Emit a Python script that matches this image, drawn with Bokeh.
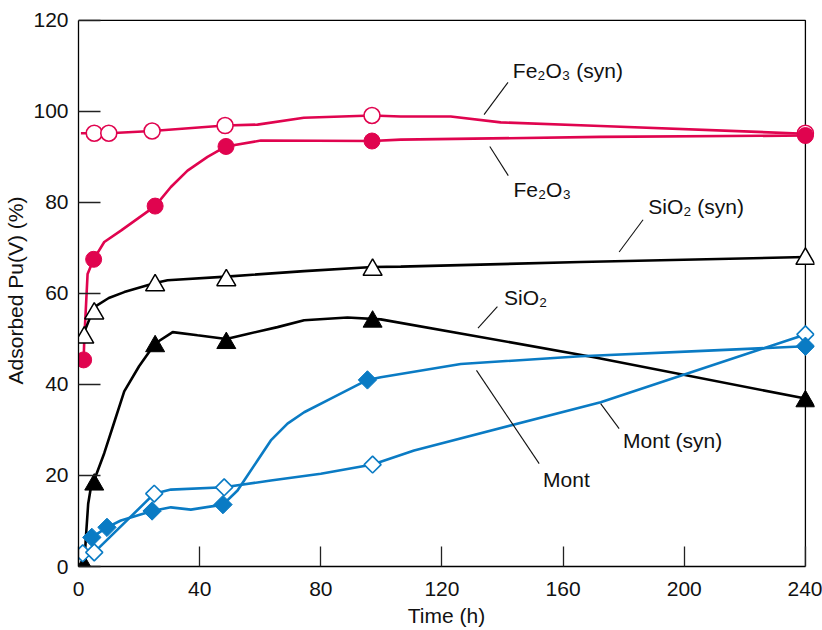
from bokeh.plotting import figure
from bokeh.models import Range1d, FixedTicker
from bokeh.embed import file_html
from bokeh.resources import INLINE
from bokeh.core.properties import value
import numpy as np

# ---------------- data ----------------
x_ticks = [0, 40, 80, 120, 160, 200, 240]
y_ticks = [0, 20, 40, 60, 80, 100, 120]

# measured points (time h, adsorbed %)
fe_syn_t = [5.2, 10.0, 24.3, 48.4, 96.9, 240]
fe_syn_v = [95.2, 95.2, 95.7, 96.9, 99.1, 95.2]
fe_t = [1.7, 5.0, 25.3, 48.7, 96.9, 240]
fe_v = [45.4, 67.5, 79.2, 92.3, 93.5, 94.7]
si_syn_t = [1.9, 5.2, 25.3, 48.8, 97.1, 240]
si_syn_v = [50.3, 55.6, 61.8, 62.9, 65.2, 67.6]
si_t = [1.9, 5.2, 25.3, 48.8, 97.1, 240]
si_v = [0.0, 18.0, 48.4, 49.1, 53.8, 36.3]
mont_t = [4.4, 9.4, 24.3, 47.7, 95.4, 240]
mont_v = [6.4, 8.6, 12.2, 13.6, 41.0, 48.4]
mont_syn_t = [1.4, 5.2, 25.0, 48.1, 97.1, 240]
mont_syn_v = [2.9, 3.1, 16.0, 17.4, 22.4, 51.0]

# hand-drawn guide curves, vertices
fe_syn_ct = [0.8, 5.2, 10.0, 24.3, 48.4, 59.1, 74.4, 96.9, 106.4, 122.9, 139.4, 172.4, 240]
fe_syn_cv = [95.2, 95.2, 95.2, 95.7, 96.9, 97.1, 98.6, 99.1, 98.9, 98.9, 97.6, 96.8, 95.1]
fe_ct = [1.7, 1.9, 3.0, 5.0, 8.5, 14.0, 25.3, 30.5, 36.0, 42.6, 48.7, 60.2, 96.9, 106.4, 172.4, 240]
fe_cv = [45.4, 49.7, 64.3, 67.5, 71.3, 73.8, 79.2, 83.4, 87.0, 90.0, 92.3, 93.6, 93.5, 93.8, 94.4, 94.7]
si_syn_ct = [1.9, 5.2, 10.0, 15.1, 25.3, 29.4, 48.8, 74.5, 97.1, 106.4, 165.8, 240]
si_syn_cv = [51.5, 57.0, 59.0, 60.3, 62.3, 62.9, 63.7, 64.9, 65.8, 65.9, 66.9, 68.0]
si_ct = [1.9, 2.4, 3.2, 4.1, 5.2, 8.5, 11.8, 15.1, 20.0, 25.3, 31.1, 39.3, 48.8, 55.8, 65.7, 74.5, 88.8, 99.8, 170.2, 240]
si_cv = [0.0, 6.0, 13.8, 17.4, 19.0, 24.9, 31.7, 38.5, 44.0, 49.0, 51.5, 50.8, 50.0, 51.1, 52.6, 54.1, 54.7, 54.3, 46.0, 36.9]
mont_ct = [4.4, 9.4, 14.0, 24.3, 30.5, 37.1, 47.7, 52.5, 54.7, 59.1, 63.5, 69.0, 74.5, 83.3, 95.4, 99.8, 126.2, 165.8, 209.8, 240]
mont_cv = [6.4, 8.6, 10.1, 12.2, 13.0, 12.5, 13.6, 16.7, 18.9, 23.3, 27.7, 31.4, 33.9, 36.9, 41.0, 41.6, 44.5, 46.2, 47.5, 48.4]
mont_syn_ct = [1.4, 5.2, 25.0, 30.5, 48.1, 63.5, 80.0, 97.1, 110.8, 172.4, 240]
mont_syn_cv = [2.9, 3.1, 16.0, 16.9, 17.4, 18.9, 20.4, 22.4, 25.5, 36.1, 51.0]

labels = ["Fe\u2082O\u2083 (syn)", "Fe\u2082O\u2083", "SiO\u2082 (syn)", "SiO\u2082", "Mont (syn)", "Mont"]

# ---------------- annotation placement ----------------
label_x = [143.4, 143.6, 188.1, 140.5, 179.8, 153.4]
label_y = [109.0, 82.9, 79.1, 59.2, 27.7, 19.1]
lead_x0 = [133.9, 135.8, 178.5, 131.9, 172.4, 131.4]
lead_y0 = [99.3, 92.3, 69.1, 52.4, 35.8, 43.1]
lead_x1 = [141.8, 141.9, 186.4, 138.3, 178.5, 152.1]
lead_y1 = [106.4, 85.9, 76.2, 57.1, 30.3, 22.6]

PINK = "#e0044f"
BLUE = "#0a7bc4"
BLACK = "#000000"
FONT = "Liberation Sans"
FS = "21px"

p = figure(width=822, height=630,
           x_range=Range1d(0, 243), y_range=Range1d(0, 121.3),
           output_backend="svg", toolbar_location=None,
           min_border_left=78, min_border_right=8,
           min_border_top=14, min_border_bottom=64)
p.grid.visible = False
p.outline_line_color = None
p.background_fill_color = "white"
p.border_fill_color = "white"

for ax, ticks, tin in ((p.xaxis, x_ticks, 20), (p.yaxis, y_ticks, 22)):
    ax.ticker = FixedTicker(ticks=ticks, minor_ticks=[])
    ax.bounds = (ticks[0], ticks[-1])
    ax.major_tick_in = tin
    ax.major_tick_out = 0
    ax.minor_tick_in = 0
    ax.minor_tick_out = 0
    ax.axis_line_color = BLACK
    ax.axis_line_width = 1.3
    ax.major_tick_line_color = "#222222"
    ax.major_tick_line_width = 1.3
    ax.major_label_text_font = FONT
    ax.major_label_text_font_size = FS
    ax.major_label_text_color = "#111111"
    ax.axis_label_text_font = FONT
    ax.axis_label_text_font_size = FS
    ax.axis_label_text_font_style = "normal"
    ax.axis_label_text_color = "#111111"

p.xaxis.axis_label = "Time (h)"
p.xaxis.major_label_standoff = 15
p.xaxis.axis_label_standoff = 5
p.yaxis.axis_label = "Adsorbed Pu(V) (%)"
p.yaxis.major_label_standoff = 10
p.yaxis.axis_label_standoff = 3

# top and right frame lines at the axis limits
p.line([x_ticks[0], x_ticks[-1], x_ticks[-1]], [y_ticks[-1], y_ticks[-1], y_ticks[0]],
       line_color=BLACK, line_width=1.3)

# guide curves
LW = 2.6
p.line(fe_syn_ct, fe_syn_cv, line_color=PINK, line_width=LW)
p.line(fe_ct, fe_cv, line_color=PINK, line_width=LW)
p.line(si_syn_ct, si_syn_cv, line_color=BLACK, line_width=LW)
p.line(si_ct, si_cv, line_color=BLACK, line_width=LW)
p.line(mont_syn_ct, mont_syn_cv, line_color=BLUE, line_width=LW)
p.line(mont_ct, mont_cv, line_color=BLUE, line_width=LW)

# leader lines
p.segment(lead_x0, lead_y0, lead_x1, lead_y1, line_color="#111111", line_width=1.1)

# markers
p.scatter(fe_syn_t, fe_syn_v, marker="circle", size=16, fill_color="white",
          line_color=PINK, line_width=1.6)
p.scatter(fe_t, fe_v, marker="circle", size=16, fill_color=PINK,
          line_color=PINK, line_width=1.0)
p.scatter(si_syn_t, si_syn_v, marker="triangle", size=19, fill_color="white",
          line_color=BLACK, line_width=1.5)
p.scatter(si_t, si_v, marker="triangle", size=19, fill_color=BLACK,
          line_color=BLACK, line_width=1.0)
p.scatter(mont_syn_t, mont_syn_v, marker="square", angle=np.pi / 4, size=12,
          fill_color="white", line_color=BLUE, line_width=1.6)
p.scatter(mont_t, mont_v, marker="square", angle=np.pi / 4, size=13,
          fill_color=BLUE, line_color=BLUE, line_width=1.0)

# series labels
p.text(label_x, label_y, text=labels, text_font=value(FONT), text_font_size=FS,
       text_align="left", text_baseline="middle", text_color="#111111")

open("out.html", "w").write(file_html(p, INLINE))
